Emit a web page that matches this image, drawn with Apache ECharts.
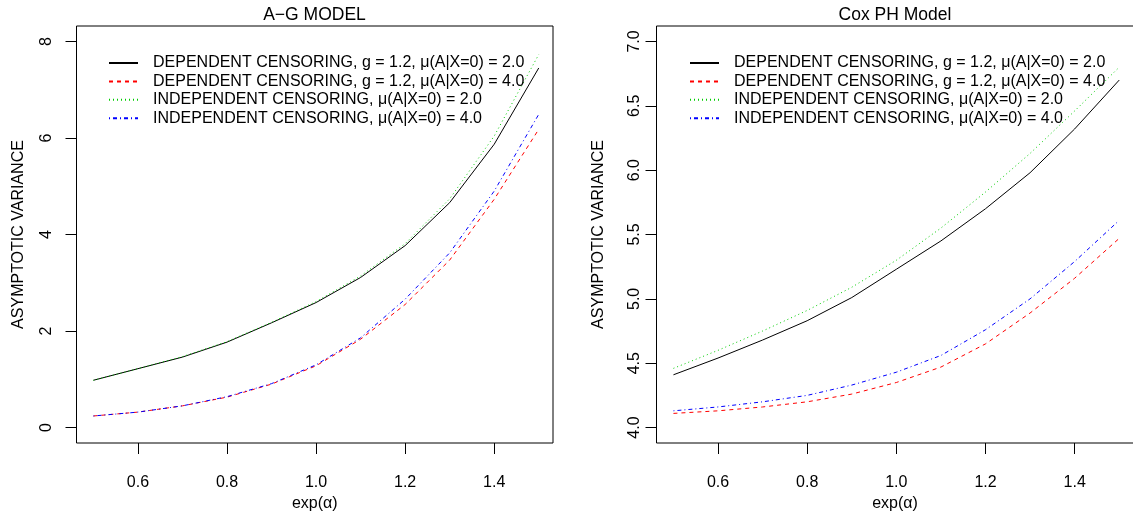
<!DOCTYPE html>
<html>
<head>
<meta charset="utf-8">
<script src="https://cdn.jsdelivr.net/npm/echarts@6/dist/echarts.min.js"></script>
<style>html,body{margin:0;padding:0;background:#fff;}#c{width:1133px;height:511px;}</style>
</head>
<body>
<div id="c"></div>
<script>
var xVals = [0.5, 0.6, 0.7, 0.8, 0.9, 1.0, 1.1, 1.2, 1.3, 1.4, 1.5];
var xTicks = [0.6, 0.8, 1.0, 1.2, 1.4];
var agTicks = [0, 2, 4, 6, 8];
var coxTicks = [4.0, 4.5, 5.0, 5.5, 6.0, 6.5, 7.0];

var seriesNames = [
  'DEPENDENT CENSORING, g = 1.2, \u03bc(A|X=0) = 2.0',
  'DEPENDENT CENSORING, g = 1.2, \u03bc(A|X=0) = 4.0',
  'INDEPENDENT CENSORING, \u03bc(A|X=0) = 2.0',
  'INDEPENDENT CENSORING, \u03bc(A|X=0) = 4.0'
];

// A-G model
var agDep2 = [0.98, 1.22, 1.46, 1.77, 2.17, 2.59, 3.11, 3.77, 4.66, 5.87, 7.45];
var agDep4 = [0.24, 0.32, 0.45, 0.63, 0.90, 1.28, 1.83, 2.55, 3.47, 4.73, 6.18];
var agInd2 = [0.98, 1.22, 1.47, 1.78, 2.18, 2.61, 3.14, 3.81, 4.74, 6.04, 7.73];
var agInd4 = [0.24, 0.32, 0.45, 0.64, 0.91, 1.30, 1.86, 2.66, 3.62, 4.90, 6.49];

// Cox PH model
var coxDep2 = [4.41, 4.54, 4.68, 4.83, 5.01, 5.23, 5.45, 5.70, 5.98, 6.32, 6.70];
var coxDep4 = [4.11, 4.13, 4.16, 4.20, 4.26, 4.35, 4.47, 4.65, 4.89, 5.16, 5.47];
var coxInd2 = [4.46, 4.60, 4.75, 4.91, 5.09, 5.30, 5.55, 5.83, 6.13, 6.46, 6.80];
var coxInd4 = [4.13, 4.16, 4.20, 4.25, 4.33, 4.43, 4.56, 4.76, 5.00, 5.29, 5.61];

var FONT = '"Liberation Sans", Arial, Helvetica, sans-serif';
var colors = ['#000000', '#FF0000', '#00CD00', '#0000FF'];
var dashes = ['solid', [4, 4], [1, 3], [1, 3, 4, 3]];
var X_MIN = 0.462, X_MAX = 1.532;

function pairs(ys) { return xVals.map(function (x, i) { return [x, ys[i]]; }); }

function mkSeries(idx, data, k) {
  return {
    type: 'line', name: seriesNames[k], xAxisIndex: idx, yAxisIndex: idx,
    data: pairs(data), symbol: 'none', silent: true,
    lineStyle: { color: colors[k], width: 1, type: dashes[k] },
    itemStyle: { color: colors[k] }
  };
}

function mkX(idx) {
  return {
    type: 'value', gridIndex: idx, min: X_MIN, max: X_MAX, position: 'bottom',
    name: 'exp(\u03b1)', nameLocation: 'middle', nameGap: 52,
    nameTextStyle: { fontFamily: FONT, fontSize: 16, color: '#000' },
    axisLine: { show: false, onZero: false },
    splitLine: { show: false },
    axisTick: { show: true, length: 11, customValues: xTicks, lineStyle: { color: '#000', width: 1 } },
    axisLabel: { customValues: xTicks, margin: 32, fontFamily: FONT, fontSize: 16, color: '#000',
      formatter: function (v) { return v.toFixed(1); } }
  };
}

// thin band grid directly under each plot box: its split lines form the x tick marks
function mkXTickBand(idx) {
  return {
    type: 'value', gridIndex: idx, min: X_MIN, max: X_MAX,
    axisLine: { show: false, onZero: false },
    axisTick: { show: true, inside: true, length: 1, customValues: xTicks, lineStyle: { color: 'rgba(0,0,0,0)' } },
    axisLabel: { show: false, customValues: xTicks },
    splitLine: { show: true, lineStyle: { color: '#000', width: 1, type: 'solid' } }
  };
}

function mkY(idx, min, max, ticks, fmt, margin) {
  return {
    type: 'value', gridIndex: idx, min: min, max: max,
    name: 'ASYMPTOTIC VARIANCE', nameLocation: 'middle', nameGap: 50, nameRotate: 90,
    nameTextStyle: { fontFamily: FONT, fontSize: 16, color: '#000' },
    axisLine: { show: false, onZero: false },
    splitLine: { show: false },
    axisTick: { show: true, length: 11, customValues: ticks, lineStyle: { color: '#000', width: 1 } },
    axisLabel: { customValues: ticks, rotate: 90, margin: margin, fontFamily: FONT, fontSize: 16, color: '#000', formatter: fmt }
  };
}

function mkLegend(left) {
  return {
    orient: 'vertical', left: left, top: 55, padding: 0, itemWidth: 29, itemHeight: 12, itemGap: 2.4,
    selectedMode: false,
    itemStyle: { opacity: 0, borderWidth: 0 },
    lineStyle: { opacity: 1 },
    data: seriesNames,
    textStyle: { fontFamily: FONT, fontSize: 16, color: '#000', padding: [0, 0, 0, 10] }
  };
}

var option = {
  backgroundColor: '#fff',
  title: [
    { text: 'A\u2212G MODEL', left: 314.5, top: 6, textAlign: 'center', padding: 0,
      textStyle: { fontFamily: FONT, fontSize: 17.5, fontWeight: 'normal', color: '#000' } },
    { text: 'Cox PH Model', left: 895, top: 6, textAlign: 'center', padding: 0,
      textStyle: { fontFamily: FONT, fontSize: 17.5, fontWeight: 'normal', color: '#000' } }
  ],
  legend: [mkLegend(108), mkLegend(689)],
  grid: [
    { left: 76.5, top: 26, width: 476.5, height: 417, show: true, borderColor: '#000', borderWidth: 1, outerBoundsMode: 'none' },
    { left: 656.5, top: 26, width: 477, height: 417, show: true, borderColor: '#000', borderWidth: 1, outerBoundsMode: 'none' },
    { left: 76.5, top: 443, width: 476.5, height: 11, show: false, outerBoundsMode: 'none' },
    { left: 656.5, top: 443, width: 477, height: 11, show: false, outerBoundsMode: 'none' }
  ],
  xAxis: [mkX(0), mkX(1), mkXTickBand(2), mkXTickBand(3)],
  yAxis: [
    mkY(0, -0.32, 8.32, agTicks, function (v) { return String(Math.round(v)); }, 22),
    mkY(1, 3.88, 7.12, coxTicks, function (v) { return v.toFixed(1); }, 14),
    { type: 'value', gridIndex: 2, min: 0, max: 1, show: false },
    { type: 'value', gridIndex: 3, min: 0, max: 1, show: false }
  ],
  series: [
    mkSeries(0, agDep2, 0), mkSeries(0, agDep4, 1), mkSeries(0, agInd2, 2), mkSeries(0, agInd4, 3),
    mkSeries(1, coxDep2, 0), mkSeries(1, coxDep4, 1), mkSeries(1, coxInd2, 2), mkSeries(1, coxInd4, 3)
  ]
};

var chart = echarts.init(document.getElementById('c'), null, { renderer: 'canvas' });
chart.setOption(option);
</script>
</body>
</html>
